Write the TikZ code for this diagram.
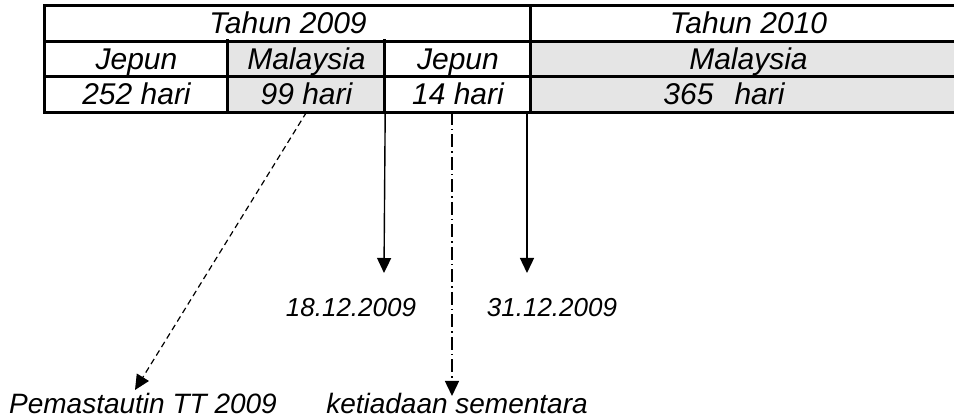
\documentclass[tikz,border=0pt]{standalone}
\usepackage{fontspec}
\setmainfont{Liberation Sans}
\usepackage{tikz}
\usetikzlibrary{arrows.meta,positioning}
\colorlet{cellgrey}{black!10}
\tikzset{cell/.style = {minimum height=35.5pt, inner sep=0pt, text height=21.5pt, text depth=0pt, font=\fontsize{30}{32}\selectfont\itshape}}
\tikzset{greycell/.style = {cell, fill=cellgrey}}
\tikzset{rule/.style = {line width=2.8pt, line cap=rect}}
\tikzset{arrow/.style = {line width=1.4pt, -{Triangle[width=14pt,length=15pt]}}}
\tikzset{datelabel/.style = {font=\fontsize{26}{28}\selectfont\itshape, inner sep=0pt, anchor=base}}
\tikzset{footlabel/.style = {font=\fontsize{28}{30}\selectfont\itshape, inner sep=0pt, anchor=base}}

\begin{document}
\begin{tikzpicture}[x=1pt,y=-1pt]
\clip (0,0) rectangle (954,419);
% table cells
\node [cell, minimum width=486pt] (t09) at (288,23.25) {Tahun 2009};
\node [cell, minimum width=435pt] (t10) at (748.5,23.25) {Tahun 2010};
\node [cell, minimum width=183pt] (jp1) at (136.5,58.75) {Jepun};
\node [greycell, minimum width=157pt] (my1) at (306.5,58.75) {Malaysia};
\node [cell, minimum width=146pt] (jp2) at (458,58.75) {Jepun};
\node [greycell, minimum width=435pt] (my2) at (748.5,58.75) {Malaysia};
\node [cell, minimum width=183pt] (d252) at (136.5,94.25) {252 hari};
\node [greycell, minimum width=157pt] (d99) at (306.5,94.25) {99 hari};
\node [cell, minimum width=146pt] (d14) at (458,94.25) {14 hari};
\node [greycell, minimum width=435pt] (d365) at (748.5,94.25) {\hspace*{-49pt}365\hspace{21pt}hari};

\draw [rule] (t10.north east) -- (t09.north west) -- (d252.south west) -- (d365.south east);
\draw [rule] (t09.south west) -- (t10.south east);
\draw [rule] (jp1.south west) -- (my2.south east);
\draw [rule] (my1.north west) -- (d99.south west);
\draw [rule] (jp2.north west) -- (d14.south west);
\draw [rule] (t10.north west) -- (d365.south west);

% labels below
\node [datelabel] (date1) at (351,317) {18.12.2009};
\node [datelabel] (date2) at (552,317) {31.12.2009};
\node [footlabel] (resident) at (143,414) {Pemastautin TT 2009};
\node [footlabel] (absence) at (457,414) {ketiadaan sementara};

\coordinate (from14) at (452,112);
\coordinate (from365) at (527,112);
\coordinate (tip1) at (384,273);
\coordinate (tip2) at (527,273);
\coordinate (tip3) at (135,390);
\coordinate (tip4) at (452,396);

\draw [arrow] (d99.south east) -- (tip1);
\draw [arrow] (from365) -- (tip2);
\draw [arrow, line width=1.2pt, dash pattern=on 6pt off 4pt] (d99.south) -- (tip3);
\draw [arrow, dash pattern=on 13pt off 4pt on 1.5pt off 4pt] (from14) -- (tip4);
\end{tikzpicture}
\end{document}
